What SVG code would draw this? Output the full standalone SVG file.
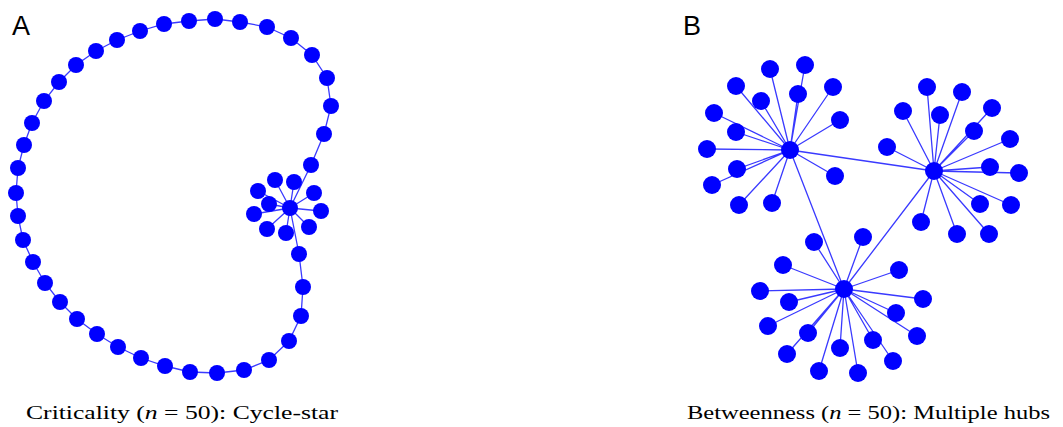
<svg xmlns="http://www.w3.org/2000/svg" width="1063" height="427" viewBox="0 0 1063 427">
<style>
.e{stroke:#3a3aff;stroke-width:1.3;fill:none}
.n{fill:#0000ff}
.lbl{font-family:"Liberation Sans",Arial,sans-serif;font-size:27px;fill:#000}
.cap{font-family:"Liberation Serif","Times New Roman",serif;font-size:18px;fill:#000}
</style>
<rect width="1063" height="427" fill="#fff"/>
<g id="connectors-a">
<polyline class="e" points="290,208 311,165 324,134 331,106 327,78 312,55 291,38 267,27 240,22 215,19 189,21 164,24 140,31 117,40 96,51 76,65 59,82 44,101 32,123 24,145 18,168 16,193 18,216 23,240 33,262 45,283 60,302 77,319 97,334 118,347 141,358 165,366 190,372 217,373 244,370 269,360 289,341 301,316 303,287 299,254 290,208"/>
<path class="e" d="M290,208L275,180M290,208L294,182M290,208L258,191M290,208L314,193M290,208L269,204M290,208L254,214M290,208L321,211M290,208L267,229M290,208L286,233M290,208L309,227"/>
</g>
<g id="connectors-b">
<path class="e" d="M790,150L934,171M790,150L844,289M934,171L844,289"/>
<path class="e" d="M790,150L770,69M790,150L805,65M790,150L736,86M790,150L798,94M790,150L833,87M790,150L761,101M790,150L714,113M790,150L840,120M790,150L736,132M790,150L707,149M790,150L737,169M790,150L712,185M790,150L835,176M790,150L739,205M790,150L772,203"/>
<path class="e" d="M934,171L927,87M934,171L962,92M934,171L903,111M934,171L940,115M934,171L992,108M934,171L974,131M934,171L887,147M934,171L1010,139M934,171L990,167M934,171L1019,173M934,171L980,204M934,171L1011,205M934,171L921,222M934,171L957,234M934,171L989,234"/>
<path class="e" d="M844,289L814,242M844,289L863,237M844,289L783,265M844,289L899,270M844,289L760,291M844,289L789,302M844,289L923,299M844,289L896,313M844,289L768,326M844,289L808,333M844,289L917,336M844,289L787,354M844,289L840,348M844,289L873,340M844,289L819,371M844,289L893,361M844,289L858,373"/>
</g>
<g id="nodes-a">
<g id="a-hub"><circle class="n" cx="290" cy="208" r="8"/></g>
<g id="a-cycle">
<circle class="n" cx="311" cy="165" r="8"/><circle class="n" cx="324" cy="134" r="8"/><circle class="n" cx="331" cy="106" r="8"/><circle class="n" cx="327" cy="78" r="8"/><circle class="n" cx="312" cy="55" r="8"/><circle class="n" cx="291" cy="38" r="8"/><circle class="n" cx="267" cy="27" r="8"/><circle class="n" cx="240" cy="22" r="8"/><circle class="n" cx="215" cy="19" r="8"/><circle class="n" cx="189" cy="21" r="8"/><circle class="n" cx="164" cy="24" r="8"/><circle class="n" cx="140" cy="31" r="8"/><circle class="n" cx="117" cy="40" r="8"/><circle class="n" cx="96" cy="51" r="8"/><circle class="n" cx="76" cy="65" r="8"/><circle class="n" cx="59" cy="82" r="8"/><circle class="n" cx="44" cy="101" r="8"/><circle class="n" cx="32" cy="123" r="8"/><circle class="n" cx="24" cy="145" r="8"/><circle class="n" cx="18" cy="168" r="8"/><circle class="n" cx="16" cy="193" r="8"/><circle class="n" cx="18" cy="216" r="8"/><circle class="n" cx="23" cy="240" r="8"/><circle class="n" cx="33" cy="262" r="8"/><circle class="n" cx="45" cy="283" r="8"/><circle class="n" cx="60" cy="302" r="8"/><circle class="n" cx="77" cy="319" r="8"/><circle class="n" cx="97" cy="334" r="8"/><circle class="n" cx="118" cy="347" r="8"/><circle class="n" cx="141" cy="358" r="8"/><circle class="n" cx="165" cy="366" r="8"/><circle class="n" cx="190" cy="372" r="8"/><circle class="n" cx="217" cy="373" r="8"/><circle class="n" cx="244" cy="370" r="8"/><circle class="n" cx="269" cy="360" r="8"/><circle class="n" cx="289" cy="341" r="8"/><circle class="n" cx="301" cy="316" r="8"/><circle class="n" cx="303" cy="287" r="8"/><circle class="n" cx="299" cy="254" r="8"/>
</g>
<g id="a-leaves">
<circle class="n" cx="275" cy="180" r="8"/><circle class="n" cx="294" cy="182" r="8"/><circle class="n" cx="258" cy="191" r="8"/><circle class="n" cx="314" cy="193" r="8"/><circle class="n" cx="269" cy="204" r="8"/><circle class="n" cx="254" cy="214" r="8"/><circle class="n" cx="321" cy="211" r="8"/><circle class="n" cx="267" cy="229" r="8"/><circle class="n" cx="286" cy="233" r="8"/><circle class="n" cx="309" cy="227" r="8"/>
</g>
</g>
<g id="nodes-b">
<g id="b-hub1"><circle class="n" cx="790" cy="150" r="9"/></g>
<g id="b-hub2"><circle class="n" cx="934" cy="171" r="9"/></g>
<g id="b-hub3"><circle class="n" cx="844" cy="289" r="9"/></g>
<g id="b-leaves1">
<circle class="n" cx="770" cy="69" r="9"/><circle class="n" cx="805" cy="65" r="9"/><circle class="n" cx="736" cy="86" r="9"/><circle class="n" cx="798" cy="94" r="9"/><circle class="n" cx="833" cy="87" r="9"/><circle class="n" cx="761" cy="101" r="9"/><circle class="n" cx="714" cy="113" r="9"/><circle class="n" cx="840" cy="120" r="9"/><circle class="n" cx="736" cy="132" r="9"/><circle class="n" cx="707" cy="149" r="9"/><circle class="n" cx="737" cy="169" r="9"/><circle class="n" cx="712" cy="185" r="9"/><circle class="n" cx="835" cy="176" r="9"/><circle class="n" cx="739" cy="205" r="9"/><circle class="n" cx="772" cy="203" r="9"/>
</g>
<g id="b-leaves2">
<circle class="n" cx="927" cy="87" r="9"/><circle class="n" cx="962" cy="92" r="9"/><circle class="n" cx="903" cy="111" r="9"/><circle class="n" cx="940" cy="115" r="9"/><circle class="n" cx="992" cy="108" r="9"/><circle class="n" cx="974" cy="131" r="9"/><circle class="n" cx="887" cy="147" r="9"/><circle class="n" cx="1010" cy="139" r="9"/><circle class="n" cx="990" cy="167" r="9"/><circle class="n" cx="1019" cy="173" r="9"/><circle class="n" cx="980" cy="204" r="9"/><circle class="n" cx="1011" cy="205" r="9"/><circle class="n" cx="921" cy="222" r="9"/><circle class="n" cx="957" cy="234" r="9"/><circle class="n" cx="989" cy="234" r="9"/>
</g>
<g id="b-leaves3">
<circle class="n" cx="814" cy="242" r="9"/><circle class="n" cx="863" cy="237" r="9"/><circle class="n" cx="783" cy="265" r="9"/><circle class="n" cx="899" cy="270" r="9"/><circle class="n" cx="760" cy="291" r="9"/><circle class="n" cx="789" cy="302" r="9"/><circle class="n" cx="923" cy="299" r="9"/><circle class="n" cx="896" cy="313" r="9"/><circle class="n" cx="768" cy="326" r="9"/><circle class="n" cx="808" cy="333" r="9"/><circle class="n" cx="917" cy="336" r="9"/><circle class="n" cx="787" cy="354" r="9"/><circle class="n" cx="840" cy="348" r="9"/><circle class="n" cx="873" cy="340" r="9"/><circle class="n" cx="819" cy="371" r="9"/><circle class="n" cx="893" cy="361" r="9"/><circle class="n" cx="858" cy="373" r="9"/>
</g>
</g>
<g id="labels">
<text class="lbl" x="12" y="35">A</text>
<text class="lbl" x="683" y="35">B</text>
<text class="cap" x="26" y="419" textLength="312" lengthAdjust="spacingAndGlyphs">Criticality (<tspan font-style="italic">n</tspan> = 50):  Cycle-star</text>
<text class="cap" x="687" y="419" textLength="363" lengthAdjust="spacingAndGlyphs">Betweenness (<tspan font-style="italic">n</tspan> = 50):  Multiple hubs</text>
</g>
</svg>
